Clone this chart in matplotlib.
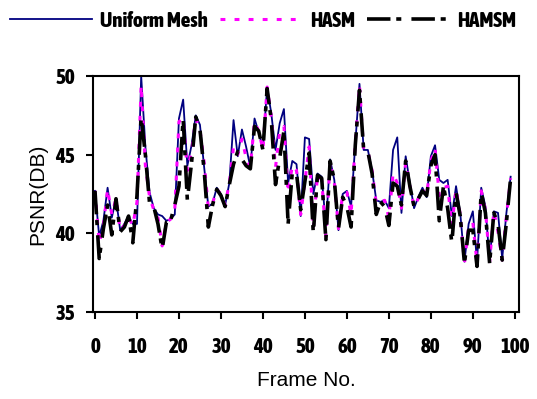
import numpy as np
import matplotlib
matplotlib.use("Agg")
import matplotlib.pyplot as plt

# PSNR per frame for the three meshing methods
frames = np.arange(100)

uniform = [42.7, 39.8, 40.8, 42.9, 41.0, 42.2, 40.2, 40.6, 41.1, 40.6,
           40.6, 50.0, 45.5, 42.6, 41.6, 41.2, 41.1, 40.8, 40.9, 41.2,
           47.3, 48.5, 44.3, 45.6, 47.5, 46.9, 44.2, 41.7, 41.9, 42.9,
           42.5, 41.8, 43.2, 47.2, 44.9, 46.6, 45.5, 44.2, 47.3, 46.4,
           45.4, 49.3, 47.6, 45.3, 47.0, 47.9, 43.2, 44.6, 44.4, 41.1,
           46.1, 46.0, 42.5, 43.8, 43.6, 40.5, 44.7, 43.4, 40.2, 42.5,
           42.7, 41.7, 45.7, 49.5, 45.3, 45.3, 44.0, 42.1, 42.0, 42.1,
           41.6, 45.3, 46.1, 41.3, 44.9, 43.2, 41.6, 42.3, 42.9, 42.3,
           44.9, 45.6, 43.4, 43.2, 43.4, 41.1, 43.0, 41.3, 38.2, 40.6,
           41.4, 38.2, 42.9, 41.7, 38.2, 41.4, 41.3, 38.4, 41.3, 43.6]

hasm = [42.7, 39.4, 40.5, 42.8, 41.2, 42.2, 40.2, 40.5, 41.0, 40.5,
        42.0, 49.4, 44.3, 42.3, 41.5, 41.0, 39.2, 40.7, 40.9, 41.5,
        47.1, 47.3, 44.0, 45.2, 47.3, 46.6, 44.5, 41.6, 41.9, 42.8,
        42.5, 41.8, 43.2, 45.5, 45.0, 46.0, 44.8, 44.2, 47.1, 46.5,
        45.3, 49.3, 47.4, 44.2, 46.5, 46.8, 42.6, 44.3, 44.0, 41.2,
        43.3, 45.5, 40.3, 43.7, 43.4, 39.8, 44.5, 43.3, 40.3, 42.5,
        42.6, 41.2, 45.8, 49.4, 45.3, 45.2, 44.0, 41.9, 42.0, 42.1,
        41.0, 43.8, 43.2, 41.6, 44.5, 43.0, 41.7, 42.2, 42.8, 42.4,
        44.6, 45.4, 42.4, 42.9, 43.0, 40.5, 42.8, 41.2, 38.1, 40.4,
        40.7, 38.1, 42.7, 41.5, 38.2, 41.4, 40.1, 38.3, 41.1, 43.5]

hamsm = [42.7, 38.4, 40.3, 41.8, 39.9, 42.2, 40.1, 40.4, 41.1, 39.4,
         42.4, 47.4, 45.0, 41.9, 41.7, 40.6, 39.0, 40.7, 40.8, 41.8,
         43.0, 47.3, 42.1, 44.5, 47.4, 46.6, 44.0, 40.4, 41.8, 42.8,
         42.4, 41.7, 43.1, 44.4, 45.2, 44.7, 44.3, 44.1, 46.8, 46.5,
         45.3, 49.2, 47.2, 43.1, 44.8, 46.5, 40.6, 43.9, 43.8, 41.5,
         43.3, 45.1, 40.0, 43.7, 43.5, 39.6, 44.6, 43.4, 40.3, 42.3,
         41.7, 40.4, 45.6, 49.1, 45.3, 45.2, 43.8, 41.2, 42.0, 41.7,
         40.5, 43.2, 43.0, 41.8, 44.6, 43.0, 41.7, 42.2, 42.7, 42.4,
         44.3, 45.0, 40.8, 43.0, 41.6, 39.4, 42.6, 41.1, 38.1, 40.2,
         40.2, 37.9, 42.6, 41.3, 38.1, 41.3, 40.6, 38.3, 40.7, 43.5]

x_ticks = list(range(0, 101, 10))
y_ticks = [35, 40, 45, 50]

narrow = ["Asap Condensed", "DejaVu Sans"]
tick_font = dict(family=narrow, weight=800, size=15)

fig = plt.figure(figsize=(5.37, 3.99), dpi=100)
ax = fig.add_axes([0.173, 0.218, 0.7935, 0.5915])

ax.plot(frames, uniform, color="#000080", lw=1.3, label="Uniform Mesh")
ax.plot(frames, hasm, color="#ff00ff", lw=2.2, dashes=(1.6, 3.0), label="HASM")
ax.plot(frames, hamsm, color="black", lw=2.6, dashes=(6.5, 1.6, 1.4, 2.8), label="HAMSM")

ax.set_xlim(-0.5, 101)
ax.set_ylim(35, 50)
ax.set_xticks(x_ticks)
ax.set_yticks(y_ticks)
ax.set_xticklabels([str(t) for t in x_ticks], fontdict=tick_font)
ax.set_yticklabels([str(t) for t in y_ticks], fontdict=tick_font)
ax.tick_params(axis="x", direction="out", length=5, width=1.5, pad=13)
ax.tick_params(axis="y", direction="out", length=5, width=1.5, pad=8)
for s in ax.spines.values():
    s.set_linewidth(1.5)

ax.set_xlabel("Frame No.", family="Liberation Sans", size=15, labelpad=10)
ax.set_ylabel("PSNR(DB)", family="Liberation Sans", size=15, labelpad=6)

leg = fig.legend(loc="upper center", bbox_to_anchor=(0.49, 1.02), ncol=3, frameon=False,
                 handlelength=3.9, handletextpad=0.4, columnspacing=0.6,
                 prop=dict(family=narrow, weight=800, size=15))

fig.savefig("out.png", dpi=100)
